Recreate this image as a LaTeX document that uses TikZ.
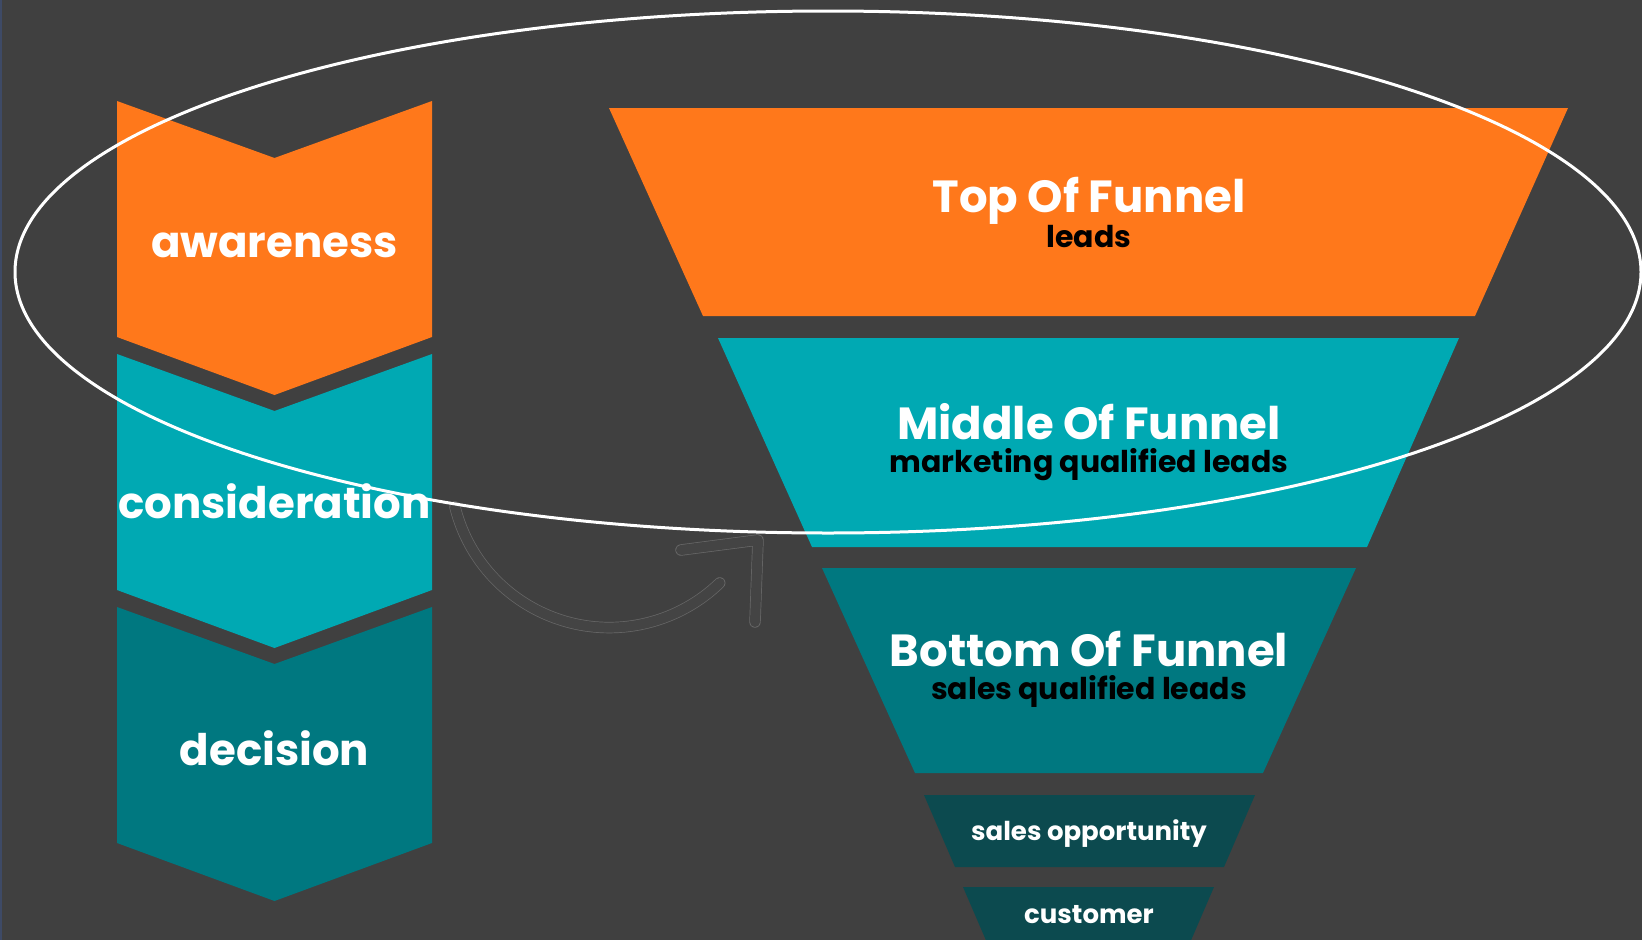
\documentclass[tikz,border=0pt]{standalone}
\usepackage{fontspec}
\setmainfont{Poppins}
\definecolor{bgGrey}{HTML}{404040}
\definecolor{edgeBlue}{HTML}{3E4A66}
\definecolor{orangeF}{HTML}{FF781B}
\definecolor{tealF}{HTML}{00A9B3}
\definecolor{darkTealF}{HTML}{007880}
\definecolor{deepTealF}{HTML}{0C4A4F}
\definecolor{arrowEdge}{HTML}{686868}
\definecolor{arrowFill}{HTML}{444444}
\begin{document}
\begin{tikzpicture}[x=1pt,y=-1pt,line cap=round,line join=round,
  stagetext/.style={font=\fontsize{43.5}{43.5}\selectfont\bfseries,text=white,anchor=base,inner sep=0},
  leveltitle/.style={font=\fontsize{45}{45}\selectfont\bfseries,text=white,anchor=base,inner sep=0},
  levelsub/.style={font=\fontsize{30}{30}\selectfont\bfseries,text=black,anchor=base,inner sep=0},
  leveltext/.style={font=\fontsize{26}{26}\selectfont\bfseries,text=white,anchor=base,inner sep=0},
  arrowline/.style={draw=arrowEdge,line width=0.7,double=arrowFill,double distance=10}]

\useasboundingbox (0,0) rectangle (1642,940);
\clip (0,0) rectangle (1642,940);
\fill [bgGrey] (0,0) rectangle (1642,940);
\fill [edgeBlue] (0,0) rectangle (2,940);

% buyer journey
\fill [orangeF] (117,101) -- (274.5,158) -- (432,101) -- (432,337) -- (274.5,395) -- (117,337) -- cycle;
\node [stagetext] (aware) at (274.5,257) {awareness};
\fill [tealF] (117,354) -- (274.5,411) -- (432,354) -- (432,590) -- (274.5,648) -- (117,590) -- cycle;
\node [stagetext] (consid) at (274.5,518) {consideration};
\fill [darkTealF] (117,607) -- (274.5,664) -- (432,607) -- (432,843) -- (274.5,901) -- (117,843) -- cycle;
\node [stagetext] (decis) at (274.5,765) {decision};

% funnel
\fill [orangeF] (609,108) -- (1568,108) -- (1475,316) -- (703,316) -- cycle;
\node [leveltitle] (tof) at (1089,212) {Top Of Funnel};
\node [levelsub] (tofsub) at (1089,247) {leads};
\fill [tealF] (718,338) -- (1459,338) -- (1367,547) -- (812,547) -- cycle;
\node [leveltitle] (mof) at (1089,439) {Middle Of Funnel};
\node [levelsub] (mofsub) at (1089,472) {marketing qualified leads};
\fill [darkTealF] (822,568) -- (1356,568) -- (1263,773) -- (915,773) -- cycle;
\node [leveltitle] (bof) at (1089,666) {Bottom Of Funnel};
\node [levelsub] (bofsub) at (1089,699) {sales qualified leads};
\fill [deepTealF] (924,795) -- (1255,795) -- (1224,867) -- (955,867) -- cycle;
\node [leveltext] (opp) at (1089,840) {sales opportunity};
\fill [deepTealF] (963,887) -- (1214,887) -- (1189,945) -- (988,945) -- cycle;
\node [leveltext] (cust) at (1089,923) {customer};

% curved arrow
\coordinate (arcStart) at (455,507);
\coordinate (headA) at (681,550);
\coordinate (headTip) at (758,540);
\coordinate (headB) at (755,622);
\draw [arrowline] (arcStart) arc [start angle=166, end angle=46, radius=159];
\draw [arrowline] (headA) -- (headTip) -- (headB);

% highlight
\draw [white, line width=3] (828,272) ellipse [x radius=813, y radius=261];
\end{tikzpicture}
\end{document}
